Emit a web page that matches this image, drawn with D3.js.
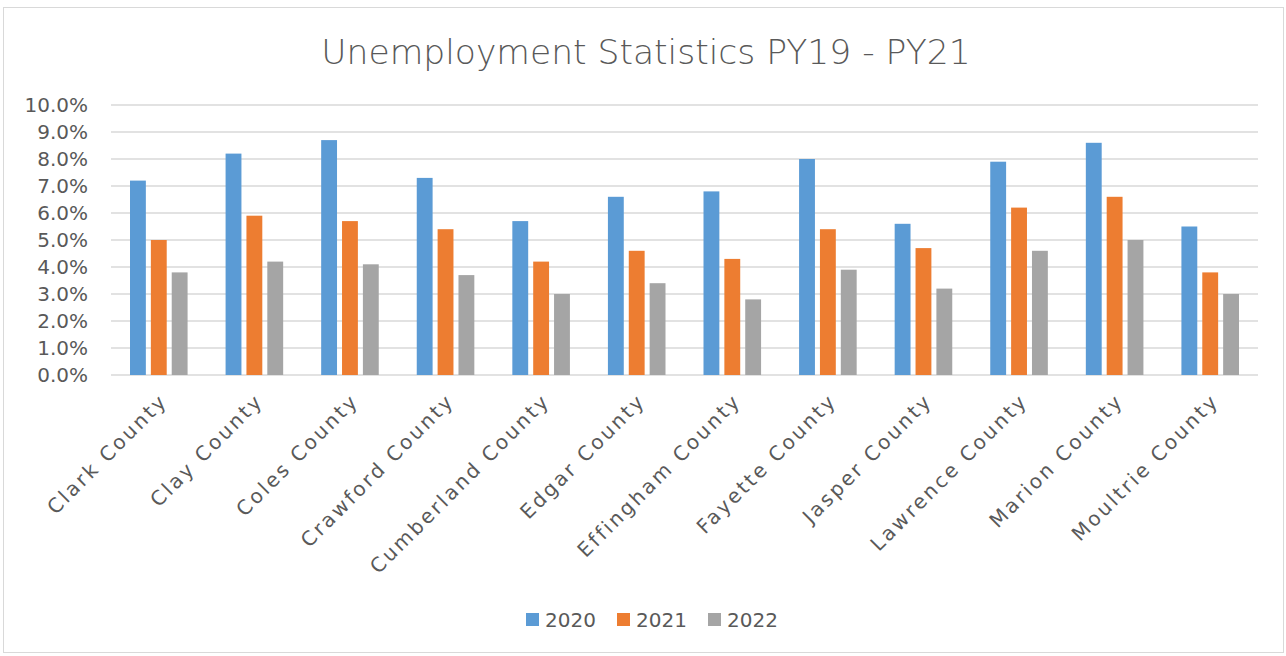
<!DOCTYPE html>
<html>
<head>
<meta charset="utf-8">
<script src="https://cdn.jsdelivr.net/npm/d3@7"></script>
<style>
  body { margin: 0; background: #fff; }
  text { font-family: "DejaVu Sans", sans-serif; fill: #595959; }
</style>
</head>
<body>
<div id="chart"></div>
<script>
var counties = ["Clark County", "Clay County", "Coles County", "Crawford County", "Cumberland County",
    "Edgar County", "Effingham County", "Fayette County", "Jasper County", "Lawrence County",
    "Marion County", "Moultrie County"];
var years = ["2020", "2021", "2022"];
var rate2020 = [7.2, 8.2, 8.7, 7.3, 5.7, 6.6, 6.8, 8.0, 5.6, 7.9, 8.6, 5.5];
var rate2021 = [5.0, 5.9, 5.7, 5.4, 4.2, 4.6, 4.3, 5.4, 4.7, 6.2, 6.6, 3.8];
var rate2022 = [3.8, 4.2, 4.1, 3.7, 3.0, 3.4, 2.8, 3.9, 3.2, 4.6, 5.0, 3.0];
var yTicks = [0, 1, 2, 3, 4, 5, 6, 7, 8, 9, 10];
var colors = ["#5b9bd5", "#ed7d31", "#a5a5a5"];

var series = [rate2020, rate2021, rate2022];
var width = 1286, height = 656;
var margin = { top: 105, right: 28, bottom: 281, left: 111 };
var plotW = width - margin.left - margin.right,
    plotH = height - margin.top - margin.bottom;

var svg = d3.select("#chart").append("svg")
    .attr("width", width)
    .attr("height", height);

// chart frame
svg.append("rect")
    .attr("x", 3.5).attr("y", 7.5)
    .attr("width", width - 6).attr("height", height - 11)
    .attr("fill", "none")
    .attr("stroke", "#d9d9d9");

svg.append("text")
    .attr("x", 646)
    .attr("y", 64)
    .attr("text-anchor", "middle")
    .style("font-family", "'DejaVu Sans ExtraLight', 'DejaVu Sans', sans-serif")
    .style("font-size", "34.5px")
    .style("font-weight", 200)
    .text("Unemployment Statistics PY19 - PY21");

var g = svg.append("g")
    .attr("transform", "translate(" + margin.left + "," + margin.top + ")");

var x = d3.scaleBand().domain(counties).range([0, plotW]);
var x1 = d3.scaleBand().domain(years).range([19, x.bandwidth() - 19]).paddingInner(0.24);
var y = d3.scaleLinear().domain([0, 10]).range([plotH, 0]);

// gridlines
g.selectAll(".grid")
    .data(yTicks)
    .enter().append("line")
    .attr("x1", 0).attr("x2", plotW)
    .attr("y1", function (d) { return y(d); })
    .attr("y2", function (d) { return y(d); })
    .attr("stroke", "#d9d9d9")
    .attr("stroke-width", 1.5);

// y labels
g.selectAll(".ylab")
    .data(yTicks)
    .enter().append("text")
    .attr("x", -23)
    .attr("y", function (d) { return y(d); })
    .attr("dy", "0.36em")
    .attr("text-anchor", "end")
    .style("font-size", "20px")
    .text(function (d) { return d.toFixed(1) + "%"; });

// bars
years.forEach(function (yr, s) {
    g.selectAll(".bar" + yr)
        .data(series[s])
        .enter().append("rect")
        .attr("x", function (d, i) { return x(counties[i]) + x1(yr); })
        .attr("y", function (d) { return y(d); })
        .attr("width", x1.bandwidth())
        .attr("height", function (d) { return plotH - y(d); })
        .attr("fill", colors[s]);
});

// category labels
g.selectAll(".xlab")
    .data(counties)
    .enter().append("text")
    .attr("transform", function (d) {
        return "translate(" + (x(d) + x.bandwidth() / 2 + 10) + "," + (plotH + 27) + ")rotate(-45)";
    })
    .attr("text-anchor", "end")
    .style("font-size", "20px")
    .style("letter-spacing", "2.6px")
    .text(function (d) { return d; });

// legend
var legend = svg.append("g").attr("transform", "translate(526,613)");
years.forEach(function (yr, i) {
    var lg = legend.append("g").attr("transform", "translate(" + (i * 91) + ",0)");
    lg.append("rect").attr("width", 13).attr("height", 13).attr("fill", colors[i]);
    lg.append("text").attr("x", 19).attr("y", 7).attr("dy", "0.36em")
        .style("font-size", "20px").text(yr);
});
</script>
</body>
</html>
